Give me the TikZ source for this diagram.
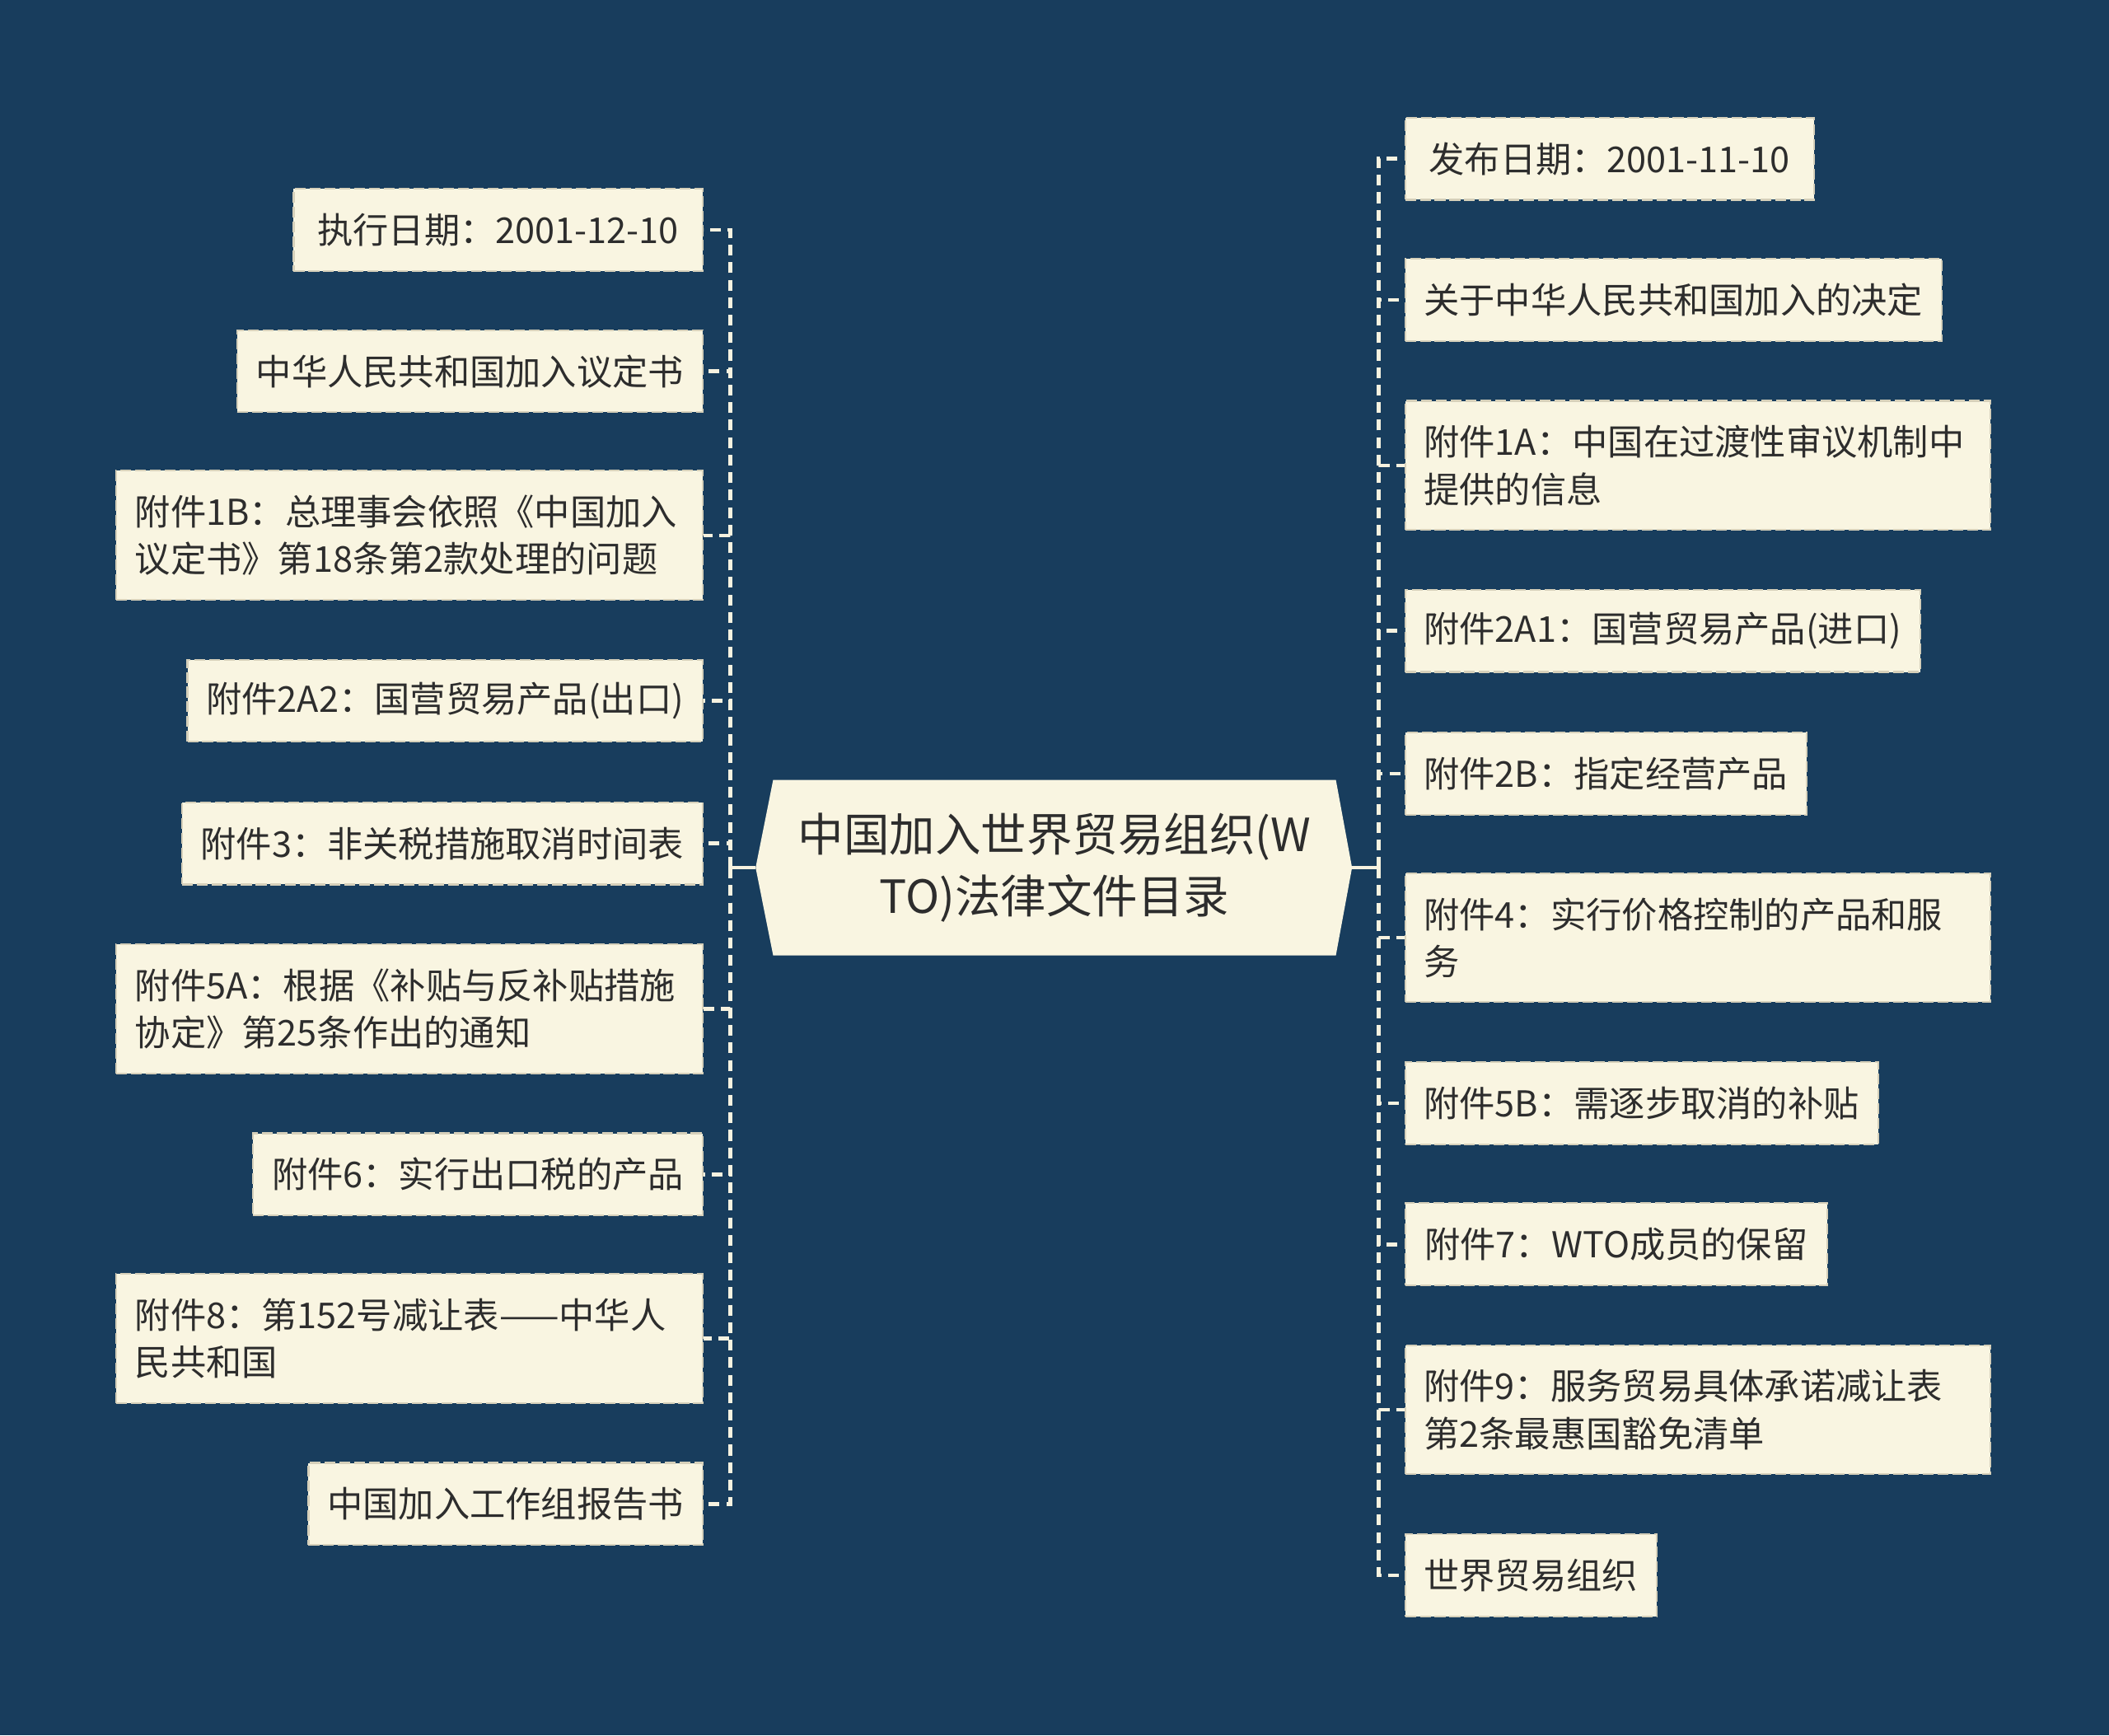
\documentclass[tikz,border=0pt]{standalone}
\usepackage{fontspec}
\setmainfont{Noto Sans CJK SC}
\usetikzlibrary{calc}
\pgfdeclarelayer{back}
\pgfdeclarelayer{bg}
\pgfsetlayers{back,bg,main}
\definecolor{bgc}{RGB}{24,61,93}
\definecolor{cream}{RGB}{249,245,225}
\definecolor{txt}{RGB}{45,45,45}
\definecolor{edgec}{RGB}{214,208,186}
\definecolor{linkc}{RGB}{246,242,224}
\begin{document}
\begin{tikzpicture}[x=1pt,y=-1pt,
  leaf/.style={rectangle, fill=cream, draw=edgec, dash pattern=on 8pt off 3pt, line width=1.3pt,
    minimum height=61pt, inner xsep=14pt, inner ysep=0pt, text=txt,
    font=\fontsize{26.5}{35}\selectfont},
  leafL/.style={leaf, anchor=east},
  leafR/.style={leaf, anchor=west},
  twoline/.style={minimum height=96pt, text width=#1, align=left},
  conn/.style={draw=linkc, line width=2.8pt, dash pattern=on 8pt off 5pt},
  trunk/.style={draw=linkc, line width=2.8pt}
]
\begin{pgfonlayer}{back}
\fill[bgc] (0,0) rectangle (1568,1290);
\end{pgfonlayer}
\useasboundingbox (0,0) rectangle (1568,1290);

% central node
\node[minimum width=418pt, minimum height=130pt, inner sep=0pt, align=center, text=txt,
  font=\fontsize{34}{46}\selectfont] (c) at (784,645) {中国加入世界贸易组织(W\\TO)法律文件目录};
\begin{pgfonlayer}{bg}
\fill[cream] (c.north west) -- (c.north east) -- ($(c.east)+(12,0)$) -- (c.south east)
  -- (c.south west) -- ($(c.west)+(-13,0)$) -- cycle;
\end{pgfonlayer}
\coordinate (cl) at ($(c.west)+(-13,0)$);
\coordinate (cr) at ($(c.east)+(12,0)$);
\coordinate (lj) at (543,645);
\coordinate (rj) at (1025,645);

% left leaves
\node[leafL, minimum width=304pt] (L1) at (523,171) {执行日期：2001-12-10};
\node[leafL, minimum width=342pt] (L2) at (523,276) {中华人民共和国加入议定书};
\node[leafL, twoline=408pt] (L3) at (523,398) {附件1B：总理事会依照《中国加入\\议定书》第18条第2款处理的问题};
\node[leafL, minimum width=383pt] (L4) at (523,521) {附件2A2：国营贸易产品(出口)};
\node[leafL, minimum width=384pt] (L5) at (523,627) {附件3：非关税措施取消时间表};
\node[leafL, twoline=408pt] (L6) at (523,750) {附件5A：根据《补贴与反补贴措施\\协定》第25条作出的通知};
\node[leafL, minimum width=332pt] (L7) at (523,873) {附件6：实行出口税的产品};
\node[leafL, twoline=408pt] (L8) at (523,995) {附件8：第152号减让表——中华人\\民共和国};
\node[leafL, minimum width=290pt] (L9) at (523,1118) {中国加入工作组报告书};

% right leaves
\node[leafR, minimum width=304pt] (R1) at (1044,118) {发布日期：2001-11-10};
\node[leafR, minimum width=394pt] (R2) at (1044,223) {关于中华人民共和国加入的决定};
\node[leafR, twoline=407pt] (R3) at (1044,346) {附件1A：中国在过渡性审议机制中\\提供的信息};
\node[leafR, minimum width=382pt] (R4) at (1044,469) {附件2A1：国营贸易产品(进口)};
\node[leafR, minimum width=294pt] (R5) at (1044,575) {附件2B：指定经营产品};
\node[leafR, twoline=407pt] (R6) at (1044,697) {附件4：实行价格控制的产品和服\\务};
\node[leafR, minimum width=346pt] (R7) at (1044,820) {附件5B：需逐步取消的补贴};
\node[leafR, minimum width=314pt] (R8) at (1044,925) {附件7：WTO成员的保留};
\node[leafR, twoline=407pt] (R9) at (1044,1048) {附件9：服务贸易具体承诺减让表\\第2条最惠国豁免清单};
\node[leafR, minimum width=183pt] (R10) at (1044,1171) {世界贸易组织};

% connectors
\begin{pgfonlayer}{bg}
\draw[trunk] (cl) -- (lj);
\draw[trunk] (cr) -- (rj);
\foreach \n in {L1,L2,L3,L4,L5,L6,L7,L8,L9}
  \draw[conn] (lj) |- (\n.east);
\foreach \n in {R1,R2,R3,R4,R5,R6,R7,R8,R9,R10}
  \draw[conn] (rj) |- (\n.west);
\end{pgfonlayer}
\end{tikzpicture}
\end{document}
